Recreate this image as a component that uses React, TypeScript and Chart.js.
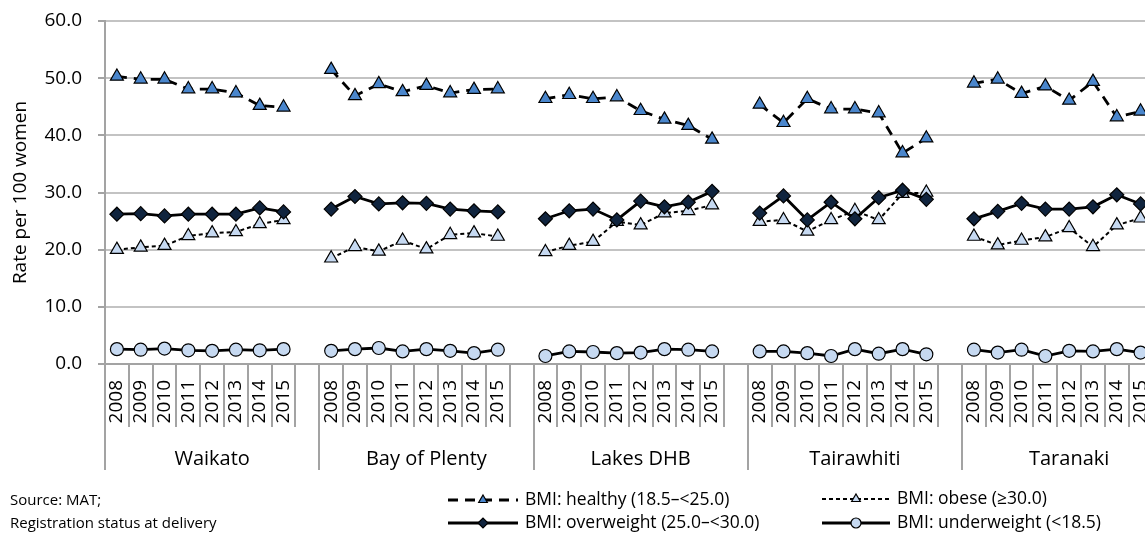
import React, { useEffect, useRef } from 'react';
import { Chart, registerables } from 'chart.js';

Chart.register(...registerables);

const REGIONS = ['Waikato', 'Bay of Plenty', 'Lakes DHB', 'Tairawhiti', 'Taranaki'];
const YEARS = ['2008', '2009', '2010', '2011', '2012', '2013', '2014', '2015'];

// rows: one per region, values per year
const HEALTHY: number[][] = [
  [50.3, 49.8, 49.8, 48.1, 48.1, 47.4, 45.2, 44.9],
  [51.5, 46.9, 49.0, 47.6, 48.7, 47.4, 48.0, 48.1],
  [46.4, 47.1, 46.4, 46.7, 44.3, 42.8, 41.7, 39.3],
  [45.4, 42.2, 46.4, 44.6, 44.6, 43.9, 36.9, 39.5],
  [49.1, 49.8, 47.3, 48.6, 46.1, 49.4, 43.2, 44.2],
];
const OVERWEIGHT: number[][] = [
  [26.2, 26.3, 25.9, 26.2, 26.2, 26.2, 27.3, 26.6],
  [27.1, 29.3, 28.0, 28.2, 28.1, 27.1, 26.8, 26.6],
  [25.4, 26.8, 27.1, 25.2, 28.5, 27.5, 28.3, 30.2],
  [26.4, 29.4, 25.2, 28.3, 25.4, 29.1, 30.4, 28.8],
  [25.4, 26.7, 28.1, 27.1, 27.1, 27.5, 29.6, 28.0],
];
const OBESE: number[][] = [
  [20.0, 20.4, 20.7, 22.4, 22.9, 23.1, 24.5, 25.2],
  [18.5, 20.5, 19.7, 21.6, 20.1, 22.6, 22.9, 22.3],
  [19.6, 20.7, 21.4, 24.9, 24.3, 26.4, 26.8, 27.8],
  [24.9, 25.2, 23.2, 25.2, 26.8, 25.2, 29.8, 30.0],
  [22.3, 20.8, 21.6, 22.2, 23.8, 20.5, 24.3, 25.5],
];
const UNDERWEIGHT: number[][] = [
  [2.6, 2.5, 2.7, 2.4, 2.3, 2.5, 2.4, 2.6],
  [2.3, 2.6, 2.8, 2.2, 2.6, 2.3, 1.9, 2.5],
  [1.4, 2.2, 2.1, 1.9, 2.0, 2.6, 2.5, 2.2],
  [2.2, 2.2, 1.9, 1.4, 2.6, 1.8, 2.6, 1.7],
  [2.5, 2.0, 2.5, 1.4, 2.3, 2.2, 2.6, 2.0],
];

const SERIES_LABELS = [
  'BMI: healthy (18.5–<25.0)',
  'BMI: overweight (25.0–<30.0)',
  'BMI: obese (≥30.0)',
  'BMI: underweight (<18.5)',
];
const Y_TICKS = [0, 10, 20, 30, 40, 50, 60];
const SOURCE_LINES = ['Source: MAT;', 'Registration status at delivery'];

const FONT = "'Open Sans', 'Noto Sans', sans-serif";
const AXIS = '#a3a3a3';
const GRID = '#c3c3c3';
const SLOTS_PER_GROUP = YEARS.length + 1;

function buildLabels(): string[] {
  const out: string[] = [];
  REGIONS.forEach(() => {
    YEARS.forEach((y) => out.push(y));
    out.push('');
  });
  return out;
}

function flatten(rows: number[][]): (number | null)[] {
  const out: (number | null)[] = [];
  rows.forEach((r) => {
    out.push(...r);
    out.push(null);
  });
  return out;
}

function drawMarker(ctx: CanvasRenderingContext2D, style: string, x: number, y: number, r: number, fill: string) {
  ctx.beginPath();
  if (style === 'triangle') {
    ctx.moveTo(x, y - r);
    ctx.lineTo(x + Math.sin((2 * Math.PI) / 3) * r, y + r / 2);
    ctx.lineTo(x - Math.sin((2 * Math.PI) / 3) * r, y + r / 2);
    ctx.closePath();
  } else if (style === 'rectRot') {
    ctx.moveTo(x - r, y);
    ctx.lineTo(x, y - r);
    ctx.lineTo(x + r, y);
    ctx.lineTo(x, y + r);
    ctx.closePath();
  } else {
    ctx.arc(x, y, r, 0, Math.PI * 2);
  }
  ctx.fillStyle = fill;
  ctx.fill();
  ctx.setLineDash([]);
  ctx.lineWidth = 1.2;
  ctx.strokeStyle = '#000';
  ctx.stroke();
}

const groupAxisPlugin = {
  id: 'groupAxis',
  afterDraw(chart: any) {
    const ctx: CanvasRenderingContext2D = chart.ctx;
    const xs = chart.scales.x;
    const n = xs.getLabels().length;
    const slot = xs.getPixelForValue(1) - xs.getPixelForValue(0);
    const bottom = chart.chartArea.bottom;
    ctx.save();
    ctx.strokeStyle = AXIS;
    ctx.lineWidth = 2;
    for (let k = 0; k <= n; k++) {
      const px = Math.round(k < n ? xs.getPixelForValue(k) - slot / 2 : xs.getPixelForValue(n - 1) + slot / 2);
      const isGroup = k % SLOTS_PER_GROUP === 0;
      ctx.beginPath();
      ctx.moveTo(px, bottom);
      ctx.lineTo(px, isGroup ? 470 : 427);
      ctx.stroke();
    }
    ctx.fillStyle = '#000';
    ctx.font = `20px ${FONT}`;
    ctx.textAlign = 'center';
    ctx.textBaseline = 'middle';
    REGIONS.forEach((name, g) => {
      const start = xs.getPixelForValue(g * SLOTS_PER_GROUP) - slot / 2;
      ctx.fillText(name, start + (slot * SLOTS_PER_GROUP) / 2, 459);
    });
    ctx.restore();
  },
};

const legendPlugin = {
  id: 'customLegend',
  afterDraw(chart: any) {
    const ctx: CanvasRenderingContext2D = chart.ctx;
    const items = [
      { ds: 0, x0: 448, x1: 518, y: 500, tx: 525 },
      { ds: 1, x0: 448, x1: 518, y: 523, tx: 525 },
      { ds: 2, x0: 822, x1: 890, y: 499, tx: 897 },
      { ds: 3, x0: 822, x1: 890, y: 523, tx: 897 },
    ];
    ctx.save();
    items.forEach((it) => {
      const d = chart.data.datasets[it.ds];
      ctx.beginPath();
      ctx.setLineDash(d.borderDash || []);
      ctx.lineWidth = d.borderWidth;
      ctx.strokeStyle = d.borderColor;
      ctx.moveTo(it.x0, it.y);
      ctx.lineTo(it.x1, it.y);
      ctx.stroke();
      drawMarker(ctx, d.pointStyle, (it.x0 + it.x1) / 2, it.y, 5, d.pointBackgroundColor);
      ctx.fillStyle = '#000';
      ctx.font = `17.5px ${FONT}`;
      ctx.textAlign = 'left';
      ctx.textBaseline = 'middle';
      ctx.fillText(d.label, it.tx, it.y);
    });
    ctx.font = `15px ${FONT}`;
    ctx.fillStyle = '#000';
    ctx.textAlign = 'left';
    ctx.textBaseline = 'middle';
    SOURCE_LINES.forEach((t, i) => ctx.fillText(t, 10, 501 + i * 23));
    ctx.restore();
  },
};

export default function App() {
  const ref = useRef<HTMLCanvasElement | null>(null);

  useEffect(() => {
    if (!ref.current) return;
    const labels = buildLabels();
    const common = {
      spanGaps: false,
      borderColor: '#000',
      pointBorderColor: '#000',
      pointBorderWidth: 1.2,
      tension: 0,
      fill: false,
      borderCapStyle: 'butt' as const,
    };
    const chart = new Chart(ref.current, {
      type: 'line',
      data: {
        labels,
        datasets: [
          {
            ...common,
            label: SERIES_LABELS[0],
            data: flatten(HEALTHY),
            borderWidth: 2.8,
            borderDash: [10, 7],
            pointStyle: 'triangle',
            pointRadius: 7.5,
            pointBackgroundColor: '#4a86cc',
          },
          {
            ...common,
            label: SERIES_LABELS[1],
            data: flatten(OVERWEIGHT),
            borderWidth: 2.8,
            pointStyle: 'rectRot',
            pointRadius: 7,
            pointBackgroundColor: '#10243e',
          },
          {
            ...common,
            label: SERIES_LABELS[2],
            data: flatten(OBESE),
            borderWidth: 2,
            borderDash: [4, 3],
            pointStyle: 'triangle',
            pointRadius: 7.5,
            pointBackgroundColor: '#c6d9f1',
          },
          {
            ...common,
            label: SERIES_LABELS[3],
            data: flatten(UNDERWEIGHT),
            borderWidth: 2.8,
            pointStyle: 'circle',
            pointRadius: 6.5,
            pointBackgroundColor: '#c6d9f1',
          },
        ] as any,
      },
      options: {
        responsive: false,
        maintainAspectRatio: false,
        animation: false,
        devicePixelRatio: 1,
        layout: { padding: { top: 21, right: 5, left: 0, bottom: 0 } },
        plugins: {
          legend: { display: false },
          tooltip: { enabled: false },
        },
        scales: {
          x: {
            type: 'category',
            offset: true,
            grid: { display: false, drawTicks: false },
            border: { display: true, color: AXIS, width: 2 },
            ticks: {
              autoSkip: false,
              minRotation: 90,
              maxRotation: 90,
              padding: 16,
              color: '#000',
              font: { family: FONT, size: 19 },
            },
            afterFit: (s: any) => {
              s.height = 170;
              s.paddingLeft = 0;
              s.paddingRight = 0;
            },
          },
          y: {
            min: Y_TICKS[0],
            max: Y_TICKS[Y_TICKS.length - 1],
            afterBuildTicks: (s: any) => {
              s.ticks = Y_TICKS.map((v) => ({ value: v }));
            },
            ticks: {
              padding: 16,
              color: '#000',
              font: { family: FONT, size: 19 },
              callback: (v: any) => Number(v).toFixed(1),
            },
            grid: { color: GRID, lineWidth: 2, tickColor: AXIS, tickLength: 7, drawTicks: true },
            border: { color: AXIS, width: 2 },
            title: {
              display: true,
              text: 'Rate per 100 women',
              color: '#000',
              font: { family: FONT, size: 19 },
              padding: { top: 9, bottom: 0 },
            },
            afterFit: (s: any) => {
              s.width = 105;
              s.paddingTop = 0;
              s.paddingBottom = 0;
            },
          },
        },
      } as any,
      plugins: [groupAxisPlugin, legendPlugin],
    });
    return () => chart.destroy();
  }, []);

  return (
    <div
      style={{
        position: 'absolute',
        left: 0,
        top: 0,
        width: 1145,
        height: 534,
        overflow: 'hidden',
        background: '#fff',
      }}
    >
      <canvas ref={ref} width={1185} height={534} style={{ width: 1185, height: 534, display: 'block' }} />
    </div>
  );
}
